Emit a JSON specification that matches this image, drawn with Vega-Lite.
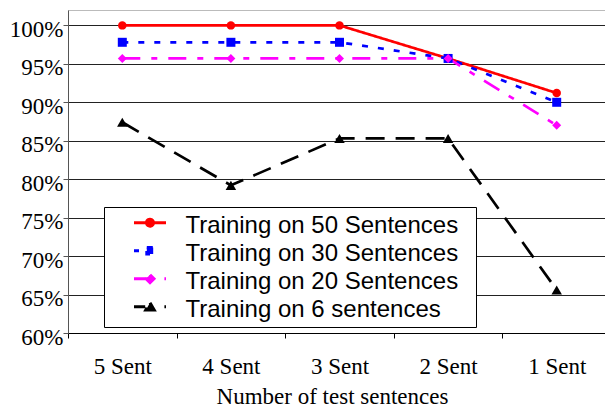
{
  "$schema": "https://vega.github.io/schema/vega-lite/v6.json",
  "width": 537,
  "height": 323,
  "autosize": {"type": "none"},
  "padding": {"left": 68, "top": 10, "right": 0, "bottom": 74},
  "background": "white",
  "config": {
    "view": {"stroke": "#bbbbbb", "strokeWidth": 1},
    "axis": {"labelFont": "Liberation Serif", "titleFont": "Liberation Serif", "labelColor": "black", "titleColor": "black", "titleFontWeight": "normal"}
  },
  "data": {
    "values": [
      {"series": "Training on 50 Sentences", "test": "5 Sent", "acc": 100},
      {"series": "Training on 50 Sentences", "test": "4 Sent", "acc": 100},
      {"series": "Training on 50 Sentences", "test": "3 Sent", "acc": 100},
      {"series": "Training on 50 Sentences", "test": "2 Sent", "acc": 95.7},
      {"series": "Training on 50 Sentences", "test": "1 Sent", "acc": 91.2},
      {"series": "Training on 30 Sentences", "test": "5 Sent", "acc": 97.8},
      {"series": "Training on 30 Sentences", "test": "4 Sent", "acc": 97.8},
      {"series": "Training on 30 Sentences", "test": "3 Sent", "acc": 97.8},
      {"series": "Training on 30 Sentences", "test": "2 Sent", "acc": 95.7},
      {"series": "Training on 30 Sentences", "test": "1 Sent", "acc": 90.0},
      {"series": "Training on 20 Sentences", "test": "5 Sent", "acc": 95.7},
      {"series": "Training on 20 Sentences", "test": "4 Sent", "acc": 95.7},
      {"series": "Training on 20 Sentences", "test": "3 Sent", "acc": 95.7},
      {"series": "Training on 20 Sentences", "test": "2 Sent", "acc": 95.7},
      {"series": "Training on 20 Sentences", "test": "1 Sent", "acc": 87.0},
      {"series": "Training on 6 sentences", "test": "5 Sent", "acc": 87.4},
      {"series": "Training on 6 sentences", "test": "4 Sent", "acc": 79.2},
      {"series": "Training on 6 sentences", "test": "3 Sent", "acc": 85.3},
      {"series": "Training on 6 sentences", "test": "2 Sent", "acc": 85.3},
      {"series": "Training on 6 sentences", "test": "1 Sent", "acc": 65.6}
    ]
  },
  "encoding": {
    "x": {
      "field": "test", "type": "nominal", "sort": ["5 Sent", "4 Sent", "3 Sent", "2 Sent", "1 Sent"],
      "scale": {"type": "band", "range": [0, 543], "paddingInner": 0, "paddingOuter": 0},
      "axis": {
        "title": "Number of test sentences", "titleFontSize": 23, "titleY": 70, "titleX": 264, "titleBaseline": "alphabetic",
        "labelFontSize": 23, "labelAngle": 0, "labelBaseline": "alphabetic", "labelPadding": 35,
        "tickBand": "extent", "tickSize": 5, "tickColor": "black", "domainColor": "black", "grid": false
      }
    },
    "y": {
      "field": "acc", "type": "quantitative",
      "scale": {"domain": [60, 102], "nice": false, "zero": false},
      "axis": {
        "title": null, "values": [60, 65, 70, 75, 80, 85, 90, 95, 100],
        "labelExpr": "datum.value + '%'", "labelFontSize": 23, "labelPadding": 0, "labelBaseline": "alphabetic", "labelOffset": 11,
        "tickSize": 5, "tickColor": "#555555", "domainColor": "#555555",
        "grid": true, "gridColor": "#222222", "gridOpacity": 1
      }
    },
    "color": {
      "field": "series", "type": "nominal",
      "scale": {"domain": ["Training on 50 Sentences", "Training on 30 Sentences", "Training on 20 Sentences", "Training on 6 sentences"], "range": ["#ff0000", "#0000ff", "#ff00ff", "#000000"]},
      "legend": null
    }
  },
  "layer": [
    {
      "mark": {"type": "line", "strokeWidth": 2.7},
      "encoding": {
        "color": {
          "field": "series", "type": "nominal",
          "legend": {
            "title": "\u00a0", "titleOrient": "right", "titlePadding": 14, "titleFontSize": 10,
            "orient": "none", "legendX": 36, "legendY": 197,
            "padding": 3.7, "rowPadding": -0.9, "clipHeight": 24, "symbolSize": 100, "symbolOffset": 30.3, "labelOffset": 23.5, "labelLimit": 0,
            "labelFont": "Liberation Sans", "labelFontSize": 24, "labelColor": "black",
            "strokeColor": "black", "fillColor": "white", "cornerRadius": 0,
            "encode": {
              "legend": {"update": {"strokeWidth": {"value": 1}}},
              "labels": {"update": {"dy": {"value": 3.7}}},
              "symbols": {
                "update": {
                  "shape": {"signal": "datum.value === 'Training on 50 Sentences' ? 'M-3.2,0L3.2,0M0.7,0A0.7,0.7,0,1,1,-0.7,0A0.7,0.7,0,1,1,0.7,0Z' : datum.value === 'Training on 30 Sentences' ? 'M-3.2,0L-2.2,0M-0.64,-0.64L0.64,-0.64L0.64,0.64L-0.64,0.64Z' : datum.value === 'Training on 20 Sentences' ? 'M-3.2,0L-0.32,0M0,-0.8L0.8,0L0,0.8L-0.8,0ZM2.88,0L3.2,0' : 'M-3.2,0L-0.96,0M0,-0.77L0.84,0.64L-0.84,0.64ZM2.88,0L3.2,0'"},
                  "size": {"value": 100},
                  "fill": {"signal": "scale('color', datum.value)"},
                  "stroke": {"signal": "scale('color', datum.value)"},
                  "strokeWidth": {"value": 3},
                  "strokeDash": {"value": [1, 0]},
                  "fillOpacity": {"value": 1},
                  "strokeOpacity": {"value": 1},
                  "opacity": {"value": 1}
                }
              }
            }
          }
        },
        "strokeDash": {
          "field": "series", "type": "nominal",
          "scale": {"domain": ["Training on 50 Sentences", "Training on 30 Sentences", "Training on 20 Sentences", "Training on 6 sentences"], "range": [[1, 0], [6, 10], [18, 11, 6, 11], [19, 11]]},
          "legend": null
        }
      }
    },
    {
      "transform": [{"filter": "datum.series === 'Training on 50 Sentences'"}],
      "mark": {"type": "point", "filled": true, "opacity": 1, "shape": "circle", "size": 72}
    },
    {
      "transform": [{"filter": "datum.series === 'Training on 30 Sentences'"}],
      "mark": {"type": "point", "filled": true, "opacity": 1, "shape": "square", "size": 81}
    },
    {
      "transform": [{"filter": "datum.series === 'Training on 20 Sentences'"}],
      "mark": {"type": "point", "filled": true, "opacity": 1, "shape": "diamond", "size": 81}
    },
    {
      "transform": [{"filter": "datum.series === 'Training on 6 sentences'"}],
      "mark": {"type": "point", "filled": true, "opacity": 1, "shape": "triangle-up", "size": 110}
    }
  ]
}
